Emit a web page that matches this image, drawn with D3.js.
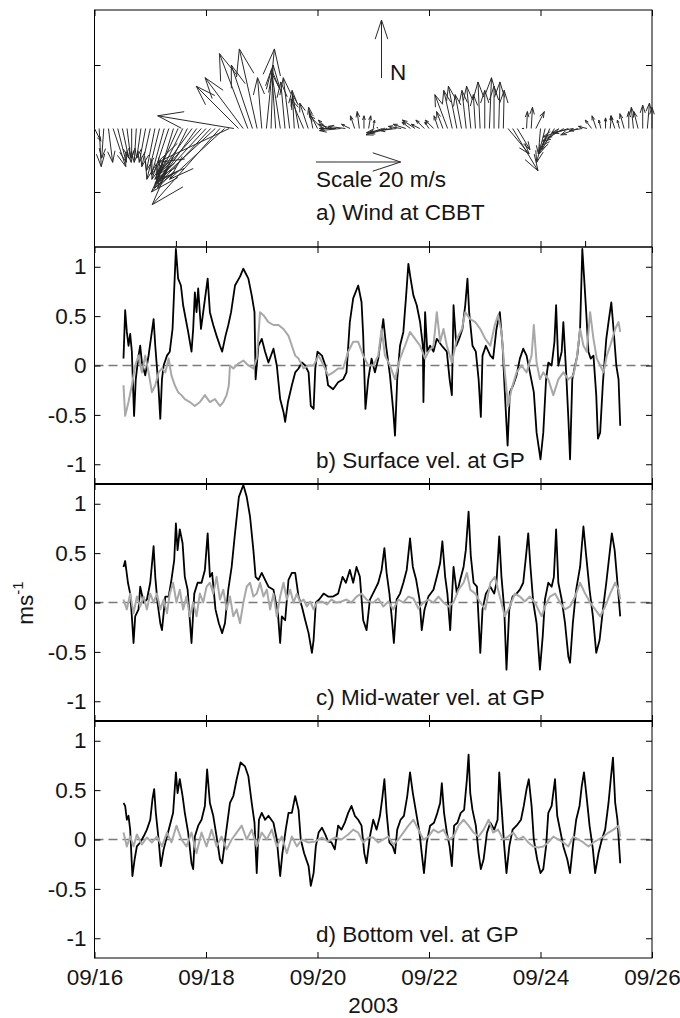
<!DOCTYPE html>
<html lang="en">
<head>
<meta charset="UTF-8">
<title>Wind and velocity at GP, September 2003</title>
<script src="https://cdn.jsdelivr.net/npm/d3@7"></script>
<style>
    body { margin: 0; background: #fff; }
    svg text { font-family: Arial, "Liberation Sans", sans-serif; fill: #151515; }
    .tick line { stroke: #000; }
    .border { fill: none; stroke: #000; stroke-width: 1; }
</style>
</head>
<body>
<svg id="chart" width="680" height="1018"></svg>
<script>
// ---- axis ticks ----
const dayTicks = [16, 18, 20, 22, 24, 26];
const velTicks = [-1, -0.5, 0, 0.5, 1];
const windTicks = [-15, 15];
const windBottomTicks = [17.46, 18, 20, 22, 24, 24.8];

// ---- wind at CBBT, one arrow every 2 h from 09/16 00:00 (m/s) ----
const windStart = 16, windStep = 2 / 24;
const windU = [1.5, 0.5, -0.5, 1, 3, 2, 1.5, 1, 0, -0.5, -1, -1.5, -2, -2, -3, -3, -4, -4, -5, -6,
    -7, -8, -10, -11, -12, -14, -13, -16, -13, -17, -18, -10, -9, -6.7, -5, -4.2, -1, 1.9, 0.5, -1,
    -2, -1, -1.5, -0.5, -1.5, -3, -2, -1, -2, -3, -2, -3, -4, -5, -4, -2, -1, -0.5, 0, 0.5,
    0.3, -0.2, -3, -5, -6, -4, -3, -3, -2, -3, -2, -2, -1, -2, -1, -1.5, -3, -2, -2, -1.5,
    -1, -1, -0.5, -0.5, 0, 0.5, 0, 0.3, 0.2, 5, 6, 3, 0.5, 0.2, 0.3, 2, -0.5, -2, -2.5, -3,
    -4, -5, -6, -5, -4, -3, -2, -1.5, -1, -0.5, 0, 0.3, -1, -0.5, -1, 0, -0.5, -1, 0, 0.5, 0];
const windV = [-3, -9, -7, -8, -9, -8, -7, -8, -7, -8, -7, -8, -9, -10, -12, -11, -12, -13, -11, -12,
    -14, -11, -14, -12, -13, -15, -12, -18, -12, -8, 3, 10, 12, 17.7, 15, 18.8, 12, 18.8, 15, 14,
    13, 11, 12, 9, 8, 7, 6, 5, 4, 3, 2, 1, 0, -0.5, 0.5, 1, 3, 4, 3, 3,
    2, 0.3, -1, -1.5, -1, -0.5, 0.5, 1, 1.5, 2, 1, 2, 1.5, 2, 3, 4, 8, 9, 10, 8,
    9, 10, 8, 11, 9, 12, 10, 11, 9, -6, -10, -5, 0, 4, 5, 4, -6, -8, -6, -5,
    -4, -3, -2, -1, -1.5, -0.5, 0.5, 2, 3, 2, 2.5, 3, 3, 2, 3.5, 4, 5, 4, 5.5, 6, 5];

// ---- b) surface velocity at GP [day of Sept, m/s] ----
const surfBlack = [[16.52,0.07],[16.55,0.56],[16.58,0.34],[16.61,0.20],[16.64,0.32],[16.67,0.14],[16.71,-0.51],[16.74,-0.14],[16.79,0.10],[16.82,0.20],[16.85,0.03],[16.91,-0.10],[16.97,0.10],[17.06,0.47],[17.09,0.20],[17.15,-0.24],[17.18,-0.54],[17.21,-0.14],[17.24,0],[17.30,0.10],[17.35,0.14],[17.40,0.37],[17.46,1.18],[17.50,0.88],[17.55,0.81],[17.59,0.61],[17.68,0.34],[17.74,0.14],[17.77,0.37],[17.80,0.74],[17.83,0.54],[17.86,0.78],[17.91,0.37],[17.95,0.54],[18.03,0.88],[18.07,0.54],[18.13,0.41],[18.19,0.30],[18.25,0.20],[18.29,0.14],[18.35,0.30],[18.40,0.41],[18.45,0.54],[18.52,0.81],[18.61,0.90],[18.67,0.98],[18.76,0.88],[18.82,0.71],[18.87,0.54],[18.89,-0.14],[18.94,0.20],[19.00,0.27],[19.06,0.14],[19.12,0.03],[19.21,0.17],[19.27,0],[19.33,-0.34],[19.39,-0.47],[19.42,-0.57],[19.47,-0.37],[19.54,-0.20],[19.60,-0.07],[19.66,-0.03],[19.72,0.03],[19.78,0],[19.84,-0.07],[19.88,-0.41],[19.93,-0.44],[19.96,-0.03],[20.00,0.14],[20.08,0.10],[20.14,0],[20.19,-0.20],[20.28,-0.24],[20.37,-0.17],[20.46,-0.14],[20.52,-0.07],[20.58,0.44],[20.64,0.68],[20.73,0.81],[20.79,0.64],[20.82,0.30],[20.86,-0.44],[20.91,-0.14],[20.97,0.07],
    [21.03,-0.07],[21.09,0.07],[21.18,0.47],[21.23,0.20],[21.30,-0.10],[21.36,-0.47],[21.39,-0.71],[21.43,-0.14],[21.48,0.20],[21.54,0.34],[21.59,0.71],[21.63,1.03],[21.67,0.88],[21.72,0.71],[21.78,0.61],[21.84,0.44],[21.89,0.20],[21.90,-0.37],[21.93,0.54],[21.97,0.14],[22.02,0.20],[22.08,0.14],[22.14,0.27],[22.23,0.20],[22.32,0.14],[22.37,-0.14],[22.41,-0.30],[22.44,0.61],[22.49,0.20],[22.54,0.27],[22.60,0.37],[22.65,0.61],[22.69,0.88],[22.72,0.54],[22.78,0.20],[22.84,0.14],[22.89,-0.14],[22.93,-0.52],[22.96,0.10],[23.02,0.20],[23.10,0.10],[23.15,0.07],[23.21,0.37],[23.27,0.54],[23.32,0.20],[23.36,-0.27],[23.41,-0.81],[23.45,-0.27],[23.51,-0.20],[23.57,-0.10],[23.63,0.07],[23.69,0.17],[23.75,0.10],[23.81,-0.07],[23.88,-0.27],[23.93,-0.68],[24.00,-0.95],[24.05,-0.68],[24.10,-0.14],[24.14,0.03],[24.20,0],[24.25,0.24],[24.28,0.61],[24.32,0],[24.38,0.14],[24.41,0.44],[24.46,-0.07],[24.50,-0.54],[24.53,-0.95],[24.57,-0.14],[24.62,0],[24.66,0.10],[24.71,0.37],[24.75,1.18],[24.78,0.91],[24.82,0.54],[24.86,0.14],[24.90,0.07],[24.95,0.10],[25.00,-0.30],[25.03,-0.74],[25.07,-0.68],[25.12,-0.17],[25.18,0.27],[25.22,0.44],[25.27,0.64],[25.31,0.37],[25.36,0],[25.40,-0.14],[25.43,-0.61]];
const surfGray = [[16.52,-0.20],[16.55,-0.51],[16.61,-0.37],[16.67,-0.20],[16.73,0],[16.79,0.10],[16.85,-0.07],[16.91,0.10],[16.97,-0.07],[17.03,-0.27],[17.09,-0.20],[17.15,-0.07],[17.21,-0.03],[17.27,-0.07],[17.33,0.07],[17.38,-0.10],[17.44,-0.20],[17.50,-0.27],[17.56,-0.30],[17.62,-0.34],[17.71,-0.37],[17.80,-0.41],[17.89,-0.37],[17.98,-0.30],[18.07,-0.37],[18.16,-0.34],[18.25,-0.41],[18.31,-0.37],[18.37,-0.30],[18.41,-0.20],[18.43,0],[18.49,-0.03],[18.58,0.02],[18.67,0.05],[18.76,0],[18.85,-0.03],[18.91,0.07],[18.97,0.54],[19.03,0.51],[19.12,0.44],[19.21,0.41],[19.30,0.41],[19.39,0.37],[19.48,0.30],[19.54,0.20],[19.60,0.10],[19.66,0.07],[19.75,-0.03],[19.84,0],[19.93,0],[20.02,0.10],[20.11,0],[20.19,-0.10],[20.28,-0.07],[20.37,-0.03],[20.46,-0.03],[20.55,0.14],[20.64,0.24],[20.73,0.24],[20.82,0.10],[20.91,0],
    [21.00,0],[21.09,0.10],[21.15,0.37],[21.21,0.10],[21.30,0],[21.39,-0.14],[21.48,0.07],[21.57,0.20],[21.66,0.34],[21.75,0.27],[21.84,0.20],[21.93,0.07],[21.99,0.14],[22.08,0.20],[22.14,0.54],[22.20,0.24],[22.26,0.37],[22.32,0.20],[22.41,0.03],[22.50,0.27],[22.59,0.37],[22.65,0.54],[22.74,0.47],[22.83,0.44],[22.92,0.37],[23.01,0.27],[23.10,0.20],[23.18,0.41],[23.24,0.51],[23.30,0.34],[23.36,-0.07],[23.42,-0.41],[23.48,-0.24],[23.57,-0.07],[23.66,0],[23.75,-0.07],[23.84,0.10],[23.88,0.41],[23.93,0.03],[23.99,-0.14],[24.05,-0.07],[24.14,-0.14],[24.23,-0.30],[24.32,-0.14],[24.41,-0.07],[24.50,-0.14],[24.59,-0.10],[24.65,0.07],[24.71,0.37],[24.77,0.20],[24.83,0.14],[24.89,0.54],[24.95,0.27],[25.01,0.07],[25.07,0],[25.13,-0.07],[25.19,0.10],[25.25,0.20],[25.34,0.37],[25.40,0.44],[25.43,0.34]];

// ---- c) mid-water velocity at GP ----
const midBlack = [[16.52,0.36],[16.55,0.42],[16.60,0.20],[16.64,0.09],[16.67,-0.14],[16.70,-0.41],[16.73,-0.14],[16.79,-0.07],[16.82,0.16],[16.88,0],[16.94,0.03],[17.00,0.20],[17.06,0.57],[17.09,0.26],[17.13,0],[17.18,-0.21],[17.21,-0.28],[17.27,0.06],[17.33,0.06],[17.38,0.23],[17.43,0.43],[17.46,0.80],[17.49,0.53],[17.53,0.74],[17.58,0.60],[17.62,0.26],[17.67,0.13],[17.71,-0.18],[17.74,-0.41],[17.79,0.09],[17.85,0.20],[17.92,0.20],[17.98,0.33],[18.03,0.70],[18.07,0.26],[18.11,0.30],[18.17,-0.07],[18.23,-0.21],[18.29,-0.31],[18.34,-0.21],[18.40,0.13],[18.46,0.36],[18.52,0.70],[18.59,1.07],[18.67,1.19],[18.73,1.07],[18.79,0.87],[18.85,0.53],[18.89,0.26],[18.94,0.23],[19.00,0.30],[19.06,0.23],[19.12,0.16],[19.21,0.13],[19.29,-0.11],[19.33,-0.41],[19.36,-0.14],[19.42,-0.18],[19.48,0.23],[19.54,0.30],[19.60,0.30],[19.66,0.06],[19.72,-0.04],[19.78,-0.18],[19.84,-0.31],[19.90,-0.51],[19.93,-0.38],[19.97,0],[20.03,0.03],[20.11,0.09],[20.19,0.06],[20.28,0.06],[20.37,0.09],[20.45,0.26],[20.51,0.20],[20.58,0.33],[20.64,0.20],[20.70,0.36],[20.76,0.26],[20.82,-0.18],[20.88,-0.28],[20.94,0.03],
    [21.03,0.13],[21.09,0.20],[21.15,0.33],[21.20,0.55],[21.24,0.30],[21.29,0.09],[21.33,-0.14],[21.37,-0.41],[21.42,0.03],[21.48,0.09],[21.54,0.20],[21.60,0.33],[21.66,0.65],[21.71,0.36],[21.77,0.23],[21.83,0.03],[21.87,-0.28],[21.92,-0.07],[21.99,0.06],[22.08,0.13],[22.14,0.26],[22.20,0.40],[22.24,0.62],[22.29,0.26],[22.33,0.09],[22.38,-0.28],[22.44,0.36],[22.50,0.09],[22.56,0.23],[22.62,0.36],[22.66,0.53],[22.71,0.92],[22.75,0.47],[22.80,0.20],[22.86,0.16],[22.92,-0.51],[22.96,-0.07],[23.02,0.09],[23.10,0.16],[23.17,0.09],[23.21,0.20],[23.26,0.67],[23.30,0.26],[23.35,-0.07],[23.39,-0.68],[23.44,-0.07],[23.50,0.06],[23.57,0.09],[23.63,0.13],[23.69,0.20],[23.74,0.47],[23.78,0.70],[23.82,0.36],[23.87,0],[23.93,-0.21],[23.99,-0.68],[24.04,-0.34],[24.08,0.03],[24.14,0.20],[24.20,0.16],[24.24,0.26],[24.28,0.74],[24.32,0.20],[24.38,0.03],[24.44,-0.21],[24.50,-0.55],[24.53,-0.61],[24.58,-0.21],[24.64,0.13],[24.71,0.36],[24.77,0.77],[24.82,0.47],[24.88,0.13],[24.94,-0.14],[25.00,-0.51],[25.06,-0.38],[25.12,-0.07],[25.18,0.20],[25.24,0.50],[25.28,0.70],[25.33,0.53],[25.38,0.20],[25.43,-0.14]];
const midGray = [[16.52,0.03],[16.58,-0.07],[16.64,0.09],[16.70,-0.11],[16.76,0.06],[16.82,-0.04],[16.88,0.06],[16.94,-0.07],[17.00,0.09],[17.06,0],[17.12,0.09],[17.18,-0.07],[17.24,0.03],[17.30,-0.11],[17.35,0.09],[17.41,0.20],[17.47,0],[17.53,0.13],[17.59,-0.07],[17.65,0.06],[17.71,-0.14],[17.77,0],[17.83,-0.14],[17.89,0.09],[17.95,0],[18.01,0.16],[18.07,0.20],[18.13,0.09],[18.19,0.26],[18.25,0.03],[18.31,0.13],[18.37,-0.07],[18.43,0.06],[18.49,-0.14],[18.55,-0.07],[18.61,-0.21],[18.67,0],[18.73,0.16],[18.79,0.20],[18.85,0.06],[18.91,0.09],[18.97,0.20],[19.03,0.06],[19.09,0.13],[19.15,-0.07],[19.21,0.09],[19.27,-0.14],[19.33,0.06],[19.39,0.20],[19.45,0.03],[19.51,0.13],[19.57,0],[19.63,0.09],[19.69,0],[19.75,0.03],[19.81,-0.04],[19.87,0.01],[19.93,-0.07],[19.99,0],[20.08,0.01],[20.17,-0.02],[20.25,0.03],[20.34,0],[20.43,0.01],[20.52,0.03],[20.61,0],[20.70,0.06],[20.79,0.09],[20.88,0.03],[20.97,0],
    [21.00,0],[21.09,0.04],[21.18,-0.04],[21.27,0.01],[21.36,-0.07],[21.45,0.03],[21.54,0],[21.63,0.06],[21.72,0.04],[21.81,-0.06],[21.90,0],[21.99,0.03],[22.08,0],[22.17,0.06],[22.26,0],[22.35,-0.04],[22.44,0],[22.53,0.13],[22.62,0.20],[22.68,0.30],[22.74,0.13],[22.83,0.09],[22.92,0],[23.01,-0.07],[23.10,0.20],[23.18,0.26],[23.27,0.06],[23.36,-0.14],[23.45,-0.04],[23.54,0.09],[23.63,0.06],[23.72,0.01],[23.81,0.06],[23.90,0],[23.96,-0.07],[24.02,-0.14],[24.08,-0.04],[24.17,0.06],[24.26,0.09],[24.35,0],[24.44,-0.07],[24.53,-0.04],[24.62,0.06],[24.71,0.20],[24.80,0.09],[24.89,0],[24.98,-0.07],[25.07,-0.14],[25.16,-0.04],[25.25,0.09],[25.34,0.20],[25.40,0.13],[25.43,0.03]];

// ---- d) bottom velocity at GP ----
const botBlack = [[16.52,0.37],[16.55,0.34],[16.58,0.20],[16.61,0.24],[16.64,0.10],[16.68,-0.37],[16.72,-0.20],[16.76,-0.07],[16.82,-0.03],[16.88,0.03],[16.94,0.10],[17.00,0.20],[17.04,0.41],[17.07,0.51],[17.10,0.27],[17.15,0],[17.19,-0.27],[17.24,-0.10],[17.30,0.03],[17.35,0.14],[17.41,0.27],[17.46,0.68],[17.49,0.47],[17.53,0.61],[17.58,0.44],[17.62,0.27],[17.68,0.07],[17.74,-0.24],[17.77,-0.30],[17.80,0.03],[17.86,0.14],[17.92,0.20],[17.98,0.34],[18.02,0.71],[18.07,0.37],[18.13,0.24],[18.19,0.03],[18.25,-0.20],[18.29,-0.24],[18.35,0.03],[18.43,0.37],[18.49,0.44],[18.55,0.61],[18.62,0.78],[18.70,0.74],[18.76,0.64],[18.82,0.37],[18.87,0.17],[18.91,-0.34],[18.95,0.20],[19.00,0.27],[19.06,0.20],[19.12,0.24],[19.21,0.17],[19.27,0],[19.33,-0.37],[19.37,-0.14],[19.43,0.10],[19.48,0.27],[19.54,0.27],[19.60,0.44],[19.66,0.30],[19.70,0],[19.76,-0.14],[19.84,-0.27],[19.88,-0.47],[19.93,-0.34],[19.97,-0.07],[20.02,0.07],[20.08,0.12],[20.14,0.05],[20.19,-0.02],[20.25,-0.03],[20.31,-0.10],[20.37,0.14],[20.43,0.10],[20.49,0.17],[20.55,0.27],[20.61,0.34],[20.67,0.24],[20.73,0.20],[20.79,0.14],[20.84,-0.14],[20.88,-0.24],[20.94,0.03],
    [21.00,0.20],[21.06,0.10],[21.12,0.24],[21.16,0.41],[21.20,0.61],[21.24,0.27],[21.29,-0.03],[21.35,-0.07],[21.39,-0.14],[21.43,0.10],[21.49,0.20],[21.55,0.24],[21.61,0.44],[21.66,0.68],[21.71,0.47],[21.77,0.27],[21.83,0.07],[21.87,-0.14],[21.91,-0.34],[21.96,-0.03],[22.02,0.14],[22.09,0.17],[22.15,0.27],[22.20,0.37],[22.23,0.57],[22.27,0.27],[22.32,0.07],[22.37,-0.07],[22.41,-0.27],[22.45,0.14],[22.51,0.17],[22.57,0.27],[22.63,0.30],[22.68,0.61],[22.71,0.86],[22.74,0.47],[22.78,0.30],[22.84,0.14],[22.89,-0.14],[22.93,-0.30],[22.98,-0.20],[23.04,0.07],[23.10,0.17],[23.17,0.10],[23.23,0.20],[23.26,0.68],[23.30,0.34],[23.35,-0.07],[23.39,-0.34],[23.44,-0.07],[23.50,0.10],[23.57,0.14],[23.65,0.20],[23.70,0.34],[23.75,0.51],[23.79,0.61],[23.84,0.34],[23.88,0],[23.94,-0.20],[24.00,-0.34],[24.05,-0.30],[24.10,-0.07],[24.14,0.27],[24.20,0.34],[24.26,0.61],[24.30,0.24],[24.35,0.10],[24.41,-0.07],[24.48,-0.20],[24.53,-0.34],[24.58,-0.07],[24.64,0.20],[24.70,0.34],[24.74,0.54],[24.78,0.68],[24.82,0.47],[24.88,0.14],[24.94,-0.10],[24.98,-0.34],[25.04,-0.14],[25.10,0],[25.16,0.10],[25.22,0.37],[25.26,0.61],[25.30,0.83],[25.34,0.37],[25.38,0.20],[25.43,-0.24]];
const botGray = [[16.52,0.07],[16.58,-0.07],[16.64,0.03],[16.70,-0.07],[16.76,0.05],[16.85,-0.05],[16.94,0.02],[17.03,-0.03],[17.12,0.03],[17.21,-0.07],[17.30,0.07],[17.38,-0.03],[17.47,0.14],[17.56,0],[17.65,-0.07],[17.74,0.07],[17.83,-0.14],[17.92,0.07],[18.01,-0.07],[18.10,0.10],[18.19,-0.07],[18.28,0.03],[18.37,-0.10],[18.46,0],[18.55,0.07],[18.64,0.14],[18.73,0],[18.82,0.10],[18.91,-0.07],[19.00,0.07],[19.09,0],[19.18,0.10],[19.27,-0.07],[19.36,0.03],[19.45,-0.14],[19.54,0.03],[19.63,-0.07],[19.72,0],[19.84,-0.03],[19.96,-0.02],[20.08,0.02],[20.19,-0.02],[20.31,0.02],[20.43,0],[20.55,0.05],[20.64,0.10],[20.73,0.07],[20.82,-0.03],[20.91,0.02],
    [21.00,0.02],[21.09,-0.03],[21.18,0],[21.27,0.03],[21.36,-0.05],[21.45,0],[21.54,0.07],[21.63,0.14],[21.72,0.20],[21.81,0.10],[21.90,0],[21.99,0.03],[22.08,0.10],[22.17,0.07],[22.26,0.10],[22.35,0],[22.44,0.03],[22.53,0.14],[22.62,0.20],[22.71,0.14],[22.80,0.07],[22.89,0.03],[22.98,0.10],[23.07,0.20],[23.15,0.07],[23.24,0.10],[23.33,0],[23.42,0.03],[23.51,0.07],[23.60,0],[23.69,0.03],[23.78,-0.03],[23.87,-0.07],[23.96,-0.08],[24.05,-0.07],[24.14,-0.03],[24.23,0.03],[24.32,0],[24.41,-0.03],[24.50,-0.07],[24.59,0.03],[24.68,0],[24.77,-0.03],[24.86,-0.07],[24.95,-0.03],[25.04,0],[25.13,0.03],[25.22,0.07],[25.31,0.10],[25.40,0.14],[25.43,0.03]];

const velPanels = [
    { black: surfBlack, gray: surfGray, label: "b) Surface vel. at GP" },
    { black: midBlack, gray: midGray, label: "c) Mid-water vel. at GP" },
    { black: botBlack, gray: botGray, label: "d) Bottom vel. at GP" }
];

// ---- layout ----
const left = 94.5, right = 652;
const panelTop = [10, 247, 484, 721];
const panelH = 237;
const fontSize = 22.5;

const svg = d3.select("#chart");
const x = d3.scaleLinear().domain([16, 26]).range([left, right]);

// arrow in pixel space, MATLAB feather style head
function arrowPath(bx, by, dx, dy) {
    const tx = bx + dx, ty = by + dy;
    const a = 0.33, b = 0.33;
    const h1x = tx - a * (dx + b * dy), h1y = ty - a * (dy - b * dx);
    const h2x = tx - a * (dx - b * dy), h2y = ty - a * (dy + b * dx);
    return `M${bx},${by}L${tx},${ty}M${h1x},${h1y}L${tx},${ty}L${h2x},${h2y}`;
}

function drawFrame(g, y, yTicks, top, showYLabels) {
    g.append("g").attr("transform", `translate(${left},0)`)
        .call(d3.axisLeft(y).tickValues(yTicks).tickSize(-6).tickPadding(8)
            .tickFormat(showYLabels ? d => String(d) : ""))
        .call(s => s.select(".domain").remove())
        .selectAll("text").style("font-size", fontSize + "px");
    g.append("g").attr("transform", `translate(${right},0)`)
        .call(d3.axisRight(y).tickValues(yTicks).tickSize(-6).tickFormat(""))
        .call(s => s.select(".domain").remove());
    g.append("rect").attr("class", "border")
        .attr("x", left).attr("y", top).attr("width", right - left).attr("height", panelH);
}

// ---- a) wind panel ----
const windY = d3.scaleLinear().domain([-28, 28]).range([panelTop[0] + panelH, panelTop[0]]);
const k = windY(0) - windY(1); // px per m/s
const ga = svg.append("g");
drawFrame(ga, windY, windTicks, panelTop[0], false);
ga.append("g").attr("transform", `translate(0,${panelTop[0]})`)
    .call(d3.axisTop(x).tickValues(dayTicks).tickSize(-6).tickFormat(""))
    .call(s => s.select(".domain").remove());
ga.append("g").attr("transform", `translate(0,${panelTop[0] + panelH})`)
    .call(d3.axisBottom(x).tickValues(windBottomTicks).tickSize(-6).tickFormat(""))
    .call(s => s.select(".domain").remove());

ga.append("g").selectAll("path")
    .data(windU.map((u, i) => ({ t: windStart + i * windStep, u, v: windV[i] })))
    .join("path")
    .attr("d", d => arrowPath(x(d.t), windY(0), k * d.u, -k * d.v))
    .attr("fill", "none").attr("stroke", "#2a2a2a").attr("stroke-width", 1);

// north marker and scale arrow
ga.append("path").attr("d", arrowPath(381.5, 78, 0, -58))
    .attr("fill", "none").attr("stroke", "#2a2a2a").attr("stroke-width", 1);
ga.append("text").attr("x", 390).attr("y", 80).style("font-size", fontSize + "px").text("N");
ga.append("path").attr("d", arrowPath(316, 162, k * 20, 0))
    .attr("fill", "none").attr("stroke", "#2a2a2a").attr("stroke-width", 1);
ga.append("text").attr("x", 316).attr("y", 187).style("font-size", fontSize + "px").text("Scale 20 m/s");
ga.append("text").attr("x", 316).attr("y", 220).style("font-size", fontSize + "px").text("a) Wind at CBBT");

// ---- velocity panels ----
velPanels.forEach((p, i) => {
    const top = panelTop[i + 1], bottom = top + panelH;
    const y = d3.scaleLinear().domain([-1.2, 1.2]).range([bottom, top]);
    const g = svg.append("g");
    const clipId = "clip" + i;
    g.append("clipPath").attr("id", clipId).append("rect")
        .attr("x", left).attr("y", top).attr("width", right - left).attr("height", panelH);

    g.append("line").attr("x1", left).attr("x2", right).attr("y1", y(0)).attr("y2", y(0))
        .attr("stroke", "#7a7a7a").attr("stroke-width", 1.5).attr("stroke-dasharray", "9,5");

    const line = d3.line().x(d => x(d[0])).y(d => y(d[1]));
    g.append("path").datum(p.black).attr("d", line).attr("clip-path", `url(#${clipId})`)
        .attr("fill", "none").attr("stroke", "#000").attr("stroke-width", 1.8)
        .attr("stroke-linejoin", "round");
    g.append("path").datum(p.gray).attr("d", line).attr("clip-path", `url(#${clipId})`)
        .attr("fill", "none").attr("stroke", "#a8a8a8").attr("stroke-width", 2)
        .attr("stroke-linejoin", "round");

    drawFrame(g, y, velTicks, top, true);
    g.append("g").attr("transform", `translate(0,${top})`)
        .call(d3.axisTop(x).tickValues(dayTicks).tickSize(-6).tickFormat(""))
        .call(s => s.select(".domain").remove());
    const xb = g.append("g").attr("transform", `translate(0,${bottom})`)
        .call(d3.axisBottom(x).tickValues(dayTicks).tickSize(-6).tickPadding(11)
            .tickFormat(i === 2 ? d => "09/" + d : ""))
        .call(s => s.select(".domain").remove());
    xb.selectAll("text").style("font-size", fontSize + "px");

    if (i > 0) {
        g.append("line").attr("x1", left).attr("x2", right).attr("y1", top).attr("y2", top)
            .attr("stroke", "#000").attr("stroke-width", 2.2);
    }
    g.append("text").attr("x", 316).attr("y", bottom - 16)
        .style("font-size", fontSize + "px").text(p.label);
});

// axis titles
svg.append("text").attr("x", (left + right) / 2).attr("y", 1013)
    .attr("text-anchor", "middle").style("font-size", fontSize + "px").text("2003");
const yt = svg.append("text").attr("transform", "translate(33,603) rotate(-90)")
    .attr("text-anchor", "middle").style("font-size", fontSize + "px");
yt.append("tspan").text("ms");
yt.append("tspan").attr("dy", -10).style("font-size", "15px").text("-1");
</script>
</body>
</html>
